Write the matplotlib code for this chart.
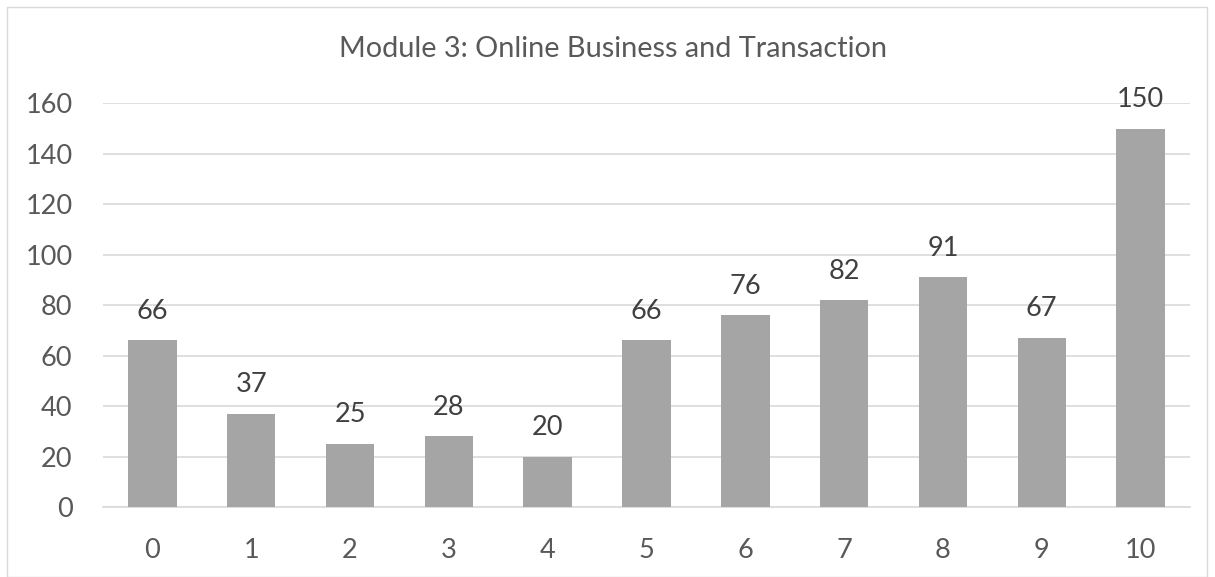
import matplotlib
matplotlib.use("Agg")
import matplotlib.pyplot as plt
from matplotlib.patches import Rectangle

categories = ["0", "1", "2", "3", "4", "5", "6", "7", "8", "9", "10"]
values = [66, 37, 25, 28, 20, 66, 76, 82, 91, 67, 150]
yticks = [0, 20, 40, 60, 80, 100, 120, 140, 160]
title = "Module 3: Online Business and Transaction"

W, H = 1215, 577
plt.rcParams['font.family'] = ['Lato', 'DejaVu Sans']
fig = plt.figure(figsize=(W / 100, H / 100), dpi=100)

# chart border
fig.patches.append(Rectangle((7 / W, 0), 1200 / W, 1 - 7 / H, transform=fig.transFigure,
                             fill=False, edgecolor="#D9D9D9", linewidth=1.0))

ax = fig.add_axes([103 / W, 1 - 507 / H, (1190 - 103) / W, (507 - 103.3) / H])
x = list(range(len(categories)))
ax.bar(x, values, width=0.49, color="#A5A5A5", zorder=3)
ax.set_xlim(-0.5, len(categories) - 0.5)
ax.set_ylim(0, 160)
ax.set_yticks(yticks)
ax.set_xticks(x)
ax.set_xticklabels(categories)
ax.grid(axis='y', color="#D9D9D9", linewidth=1.2, zorder=0)
for s in ["top", "right", "left"]:
    ax.spines[s].set_visible(False)
ax.spines["bottom"].set_color("#D9D9D9")
ax.spines["bottom"].set_linewidth(1.2)
ax.tick_params(axis='both', length=0, labelsize=19.5, colors="#595959")
ax.tick_params(axis='x', pad=22)
ax.tick_params(axis='y', pad=22)

for xi, v in zip(x, values):
    ax.annotate(str(v), (xi, v), xytext=(0, 15.5), textcoords="offset points",
                ha="center", va="baseline", fontsize=19.5, color="#404040")

fig.text(613 / W, 1 - 57 / H, title, ha="center", va="baseline", fontsize=20.8, color="#595959")

fig.savefig("out.png", dpi=100)
